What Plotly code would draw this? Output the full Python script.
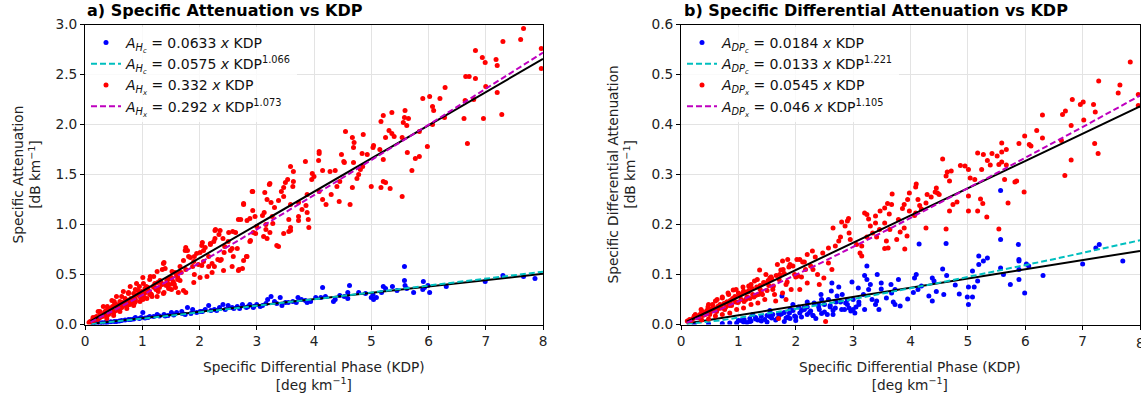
import numpy as np
import plotly.graph_objects as go

W, H = 1141, 398

# ---------------- Panel a: specific attenuation vs KDP ----------------
kdp_a_c = [7.30, 7.66, 7.86, 6.99, 6.31, 5.99, 6.02, 5.91, 5.93, 5.90, 5.74, 5.59, 5.58, 5.58, 5.62,
           5.37, 5.21, 5.25, 5.18, 5.03, 5.00, 5.04, 5.09, 4.78, 4.59, 4.62, 4.53, 4.59, 4.37, 4.34,
           4.15, 4.20, 4.12, 4.03, 3.94, 3.88, 3.78, 3.72, 3.69, 3.63, 3.50, 3.44, 3.41, 3.31, 3.25,
           3.19, 3.16, 3.06, 3.00, 2.94, 2.88, 2.82, 2.75, 2.66, 2.57, 2.50, 2.41, 2.35, 2.26, 2.16,
           2.10, 2.01, 1.88, 1.79, 1.69, 1.60, 1.51, 1.38, 1.26, 1.13, 1.01, 0.98, 0.88, 0.76, 0.64,
           0.51, 0.39, 0.26, 0.14, 3.35, 3.10, 2.95, 2.70, 2.45, 2.20, 1.95, 1.70, 1.45, 1.20, 0.95,
           0.70, 0.45, 0.30, 0.20, 1.85, 1.55, 1.30, 1.05, 0.80, 0.60, 2.30, 2.05, 1.75, 1.40, 1.10,
           0.85, 0.55, 0.35, 2.60, 2.85, 3.55, 3.85, 4.45, 4.90, 5.45]
att_a_c = [0.49, 0.48, 0.46, 0.43, 0.38, 0.39, 0.32, 0.43, 0.37, 0.35, 0.32, 0.39, 0.58, 0.44, 0.36,
           0.38, 0.38, 0.36, 0.32, 0.30, 0.27, 0.25, 0.27, 0.32, 0.32, 0.39, 0.28, 0.26, 0.25, 0.23,
           0.37, 0.28, 0.27, 0.27, 0.23, 0.22, 0.25, 0.27, 0.22, 0.23, 0.22, 0.19, 0.27, 0.23, 0.28,
           0.25, 0.21, 0.18, 0.20, 0.17, 0.20, 0.17, 0.20, 0.18, 0.17, 0.19, 0.20, 0.17, 0.15, 0.19,
           0.15, 0.13, 0.15, 0.17, 0.13, 0.12, 0.12, 0.10, 0.10, 0.08, 0.12, 0.07, 0.07, 0.05, 0.04,
           0.03, 0.02, 0.015, 0.008, 0.21, 0.19, 0.18, 0.16, 0.15, 0.14, 0.12, 0.11, 0.09, 0.08, 0.06,
           0.045, 0.028, 0.018, 0.011, 0.11, 0.095, 0.085, 0.065, 0.05, 0.035, 0.14, 0.13, 0.10, 0.085,
           0.07, 0.055, 0.03, 0.02, 0.16, 0.18, 0.22, 0.24, 0.29, 0.31, 0.34]

kdp_a_x = [7.66, 7.61, 7.30, 7.97, 7.97, 6.82, 6.94, 6.99, 7.18, 7.20, 6.65, 6.71, 6.82, 7.00, 7.20,
           6.64, 6.79, 7.28, 6.96, 6.62, 6.68, 6.29, 6.20, 6.02, 5.90, 6.07, 6.09, 6.28, 6.07, 5.98,
           5.84, 5.84, 5.77, 5.71, 5.59, 5.58, 5.65, 5.56, 5.62, 5.36, 5.21, 5.17, 5.31, 5.36, 5.40,
           5.25, 5.54, 5.63, 5.15, 5.04, 5.03, 5.21, 5.00, 5.17, 5.21, 5.25, 5.33, 5.54, 4.86, 4.55,
           4.67, 4.70, 4.69, 4.48, 4.53, 4.52, 4.69, 4.84, 4.93, 4.85, 4.81, 4.78, 4.75, 4.67, 4.63,
           4.44, 4.21, 4.09, 4.09, 3.85, 4.08, 4.15, 4.28, 4.37, 4.00, 3.97, 3.96, 4.45, 4.40, 4.30,
           4.09, 4.15, 3.88, 3.86, 3.79, 3.88, 3.90, 3.91, 3.73, 3.63, 3.59, 3.64, 3.64, 3.54, 3.50,
           3.47, 3.43, 3.38, 3.47, 3.59, 3.73, 3.56, 3.59, 3.56, 3.38, 3.23, 3.14, 3.18, 3.25, 3.31,
           3.27, 3.13, 3.10, 3.16, 3.28, 3.23, 3.18, 3.16, 2.93, 2.77, 2.93, 2.97, 2.88, 2.83, 3.00,
           2.94, 2.88, 2.82, 2.72, 2.68, 2.58, 2.63, 2.50, 2.57, 2.44, 2.43, 2.38, 2.57, 2.69, 2.75,
           2.28, 2.34, 2.41, 2.25, 2.19, 2.05, 2.10, 2.01, 1.91, 1.76, 1.79, 1.84, 1.88, 1.98, 2.07,
           2.16, 2.32, 2.26, 2.22, 2.13, 2.01, 1.91, 1.76, 1.66, 1.57, 1.62, 1.51, 1.45, 1.38, 1.35,
           1.20, 1.26, 1.13, 1.01, 1.07, 0.95, 0.88, 0.76, 0.64, 0.51, 0.39, 0.26, 0.14, 1.76, 1.63,
           1.51, 1.38, 1.26, 1.13, 1.01, 0.88, 0.76, 0.64, 0.51, 0.39, 0.26, 0.07, 2.92, 2.77, 3.22,
           2.27, 2.36, 2.51, 2.27, 2.19, 2.04, 2.07, 1.95, 1.75, 1.72, 1.81, 1.90, 2.04, 2.16, 2.22,
           2.36, 2.42, 2.54, 2.59, 2.68, 2.66, 2.77, 2.83, 2.89, 2.98, 3.12, 3.35, 3.47, 3.59, 3.73,
           1.37, 1.40, 1.52, 1.60, 1.66, 1.55, 1.46, 1.31, 1.22, 1.14, 1.02, 0.93, 0.85, 0.76, 0.70,
           0.61, 0.52, 0.44, 0.35, 0.26, 0.17, 0.09, 1.17, 1.28, 1.37, 1.08, 0.96, 0.85, 0.73, 0.61,
           0.50, 0.38, 0.90, 0.79, 0.67, 0.55, 0.47, 0.32, 0.23, 1.72, 1.10, 0.98, 0.82, 0.58, 0.42,
           1.48, 1.25, 0.70, 0.30, 0.15, 1.90, 1.58, 1.15, 0.87, 0.62, 0.20, 0.28, 0.33, 0.40, 0.46,
           0.53, 0.57, 0.66, 0.72, 0.80, 0.92, 1.00, 1.05, 1.12, 1.19, 1.24, 1.33, 1.42, 1.50, 1.68,
           0.24, 0.36, 0.43, 0.50, 0.60, 0.68, 0.78, 0.88, 0.97, 1.04, 1.16, 1.30, 1.43, 1.54, 1.62,
           0.12, 0.18, 0.22, 0.31, 0.37, 0.41, 0.48, 0.54, 0.59, 0.63, 0.69, 0.74, 0.81, 0.86, 0.94,
           0.99, 1.03, 1.09, 1.14, 1.21, 1.27, 1.35, 1.45, 1.56, 1.65]
att_a_x = [2.96, 2.85, 2.83, 2.76, 2.56, 2.74, 2.67, 2.62, 2.65, 2.59, 2.48, 2.48, 2.46, 2.38, 2.32,
           2.24, 2.25, 2.10, 2.06, 2.06, 1.81, 2.37, 2.26, 2.28, 2.26, 2.18, 2.14, 2.07, 2.00, 1.78,
           1.93, 1.68, 1.66, 1.54, 2.14, 2.07, 2.06, 2.02, 1.99, 2.12, 2.09, 2.03, 1.94, 1.91, 1.88,
           1.87, 1.87, 1.72, 1.75, 1.79, 1.77, 1.65, 1.38, 1.37, 1.43, 1.42, 1.36, 1.28, 1.90, 1.93,
           1.87, 1.82, 1.77, 1.70, 1.62, 1.63, 1.62, 1.71, 1.70, 1.58, 1.55, 1.50, 1.46, 1.37, 1.20,
           1.23, 1.20, 1.73, 1.71, 1.63, 1.64, 1.54, 1.53, 1.54, 1.48, 1.51, 1.45, 1.43, 1.38, 1.30,
           1.33, 1.25, 1.30, 1.19, 1.15, 1.12, 1.05, 0.97, 1.08, 1.38, 1.58, 1.53, 1.43, 1.45, 1.42,
           1.37, 1.33, 1.24, 1.28, 1.20, 1.22, 1.05, 0.97, 0.93, 0.78, 1.41, 1.32, 1.25, 1.22, 1.17,
           1.08, 1.12, 1.09, 1.00, 1.01, 0.92, 0.86, 0.95, 1.33, 1.21, 1.14, 1.08, 1.06, 1.04, 0.98,
           0.92, 0.83, 0.68, 1.05, 1.05, 0.93, 0.92, 0.83, 0.76, 0.78, 0.72, 0.65, 0.58, 0.55, 0.56,
           0.95, 0.90, 0.86, 0.83, 0.80, 0.82, 0.77, 0.72, 0.68, 0.77, 0.74, 0.67, 0.58, 0.60, 0.63,
           0.68, 0.65, 0.58, 0.52, 0.48, 0.47, 0.50, 0.55, 0.58, 0.52, 0.45, 0.47, 0.40, 0.62, 0.55,
           0.48, 0.53, 0.45, 0.47, 0.38, 0.38, 0.35, 0.32, 0.28, 0.23, 0.18, 0.13, 0.07, 0.32, 0.32,
           0.35, 0.32, 0.28, 0.30, 0.25, 0.23, 0.20, 0.17, 0.13, 0.10, 0.07, 0.02, 1.33, 1.20, 1.40,
           0.94, 0.94, 0.92, 0.86, 0.81, 0.79, 0.74, 0.71, 0.74, 0.64, 0.68, 0.63, 0.59, 0.58, 0.61,
           0.64, 0.54, 0.74, 0.68, 0.54, 0.76, 0.64, 0.68, 0.84, 0.91, 0.88, 0.79, 0.91, 0.94, 1.04,
           0.61, 0.56, 0.53, 0.49, 0.44, 0.41, 0.36, 0.44, 0.41, 0.48, 0.41, 0.34, 0.31, 0.31, 0.26,
           0.23, 0.21, 0.16, 0.13, 0.09, 0.06, 0.03, 0.28, 0.33, 0.31, 0.26, 0.23, 0.19, 0.16, 0.13,
           0.09, 0.06, 0.41, 0.38, 0.33, 0.28, 0.24, 0.18, 0.13, 0.34, 0.37, 0.29, 0.25, 0.15, 0.11,
           0.40, 0.36, 0.20, 0.08, 0.04, 0.42, 0.37, 0.30, 0.22, 0.19, 0.08, 0.11, 0.10, 0.14, 0.15,
           0.19, 0.17, 0.22, 0.21, 0.26, 0.30, 0.29, 0.36, 0.33, 0.38, 0.35, 0.42, 0.39, 0.46, 0.52,
           0.06, 0.09, 0.12, 0.12, 0.16, 0.19, 0.20, 0.25, 0.27, 0.31, 0.30, 0.37, 0.44, 0.43, 0.47,
           0.04, 0.07, 0.05, 0.09, 0.14, 0.10, 0.18, 0.14, 0.20, 0.17, 0.21, 0.24, 0.22, 0.27, 0.29,
           0.33, 0.27, 0.34, 0.31, 0.37, 0.42, 0.40, 0.45, 0.40, 0.52]

# ---------------- Panel b: specific differential attenuation vs KDP ----------------
kdp_b_c = [7.70, 7.29, 7.23, 7.00, 6.31, 5.99, 6.02, 6.06, 5.88, 5.89, 5.89, 5.89, 5.89, 5.74, 5.57,
           5.57, 5.57, 5.62, 5.27, 5.19, 5.34, 5.19, 5.08, 5.01, 4.99, 5.08, 5.01, 5.11, 5.17, 4.78,
           4.62, 4.56, 4.63, 4.58, 4.38, 4.41, 4.38, 4.32, 4.15, 4.10, 4.07, 4.19, 4.13, 3.95, 3.79,
           3.82, 3.73, 3.73, 3.67, 3.66, 3.58, 3.49, 3.49, 3.42, 3.41, 3.39, 3.33, 3.27, 3.24, 3.20,
           3.24, 3.30, 3.18, 3.09, 2.98, 3.00, 3.03, 2.93, 2.96, 2.87, 2.81, 2.75, 2.72, 2.69, 2.63,
           2.62, 2.57, 2.50, 2.44, 2.41, 2.32, 2.26, 2.20, 2.14, 2.07, 1.98, 1.89, 1.83, 1.76, 1.71,
           1.58, 1.46, 1.34, 1.22, 1.09, 0.97, 0.85, 0.72, 0.48, 0.23, 2.85, 2.65, 2.45, 2.30, 2.10,
           1.90, 1.65, 1.40, 1.15, 3.05, 2.55, 2.35, 2.00, 1.80, 1.50, 1.30, 1.55, 1.75, 1.95, 2.15,
           2.40, 2.60, 2.78, 2.90, 3.10, 3.45, 3.70, 4.05, 4.45, 4.85, 1.05, 1.20, 1.68, 1.86, 2.24,
           1.00, 1.10, 1.20, 1.30, 1.40, 1.50, 1.60, 1.70, 1.80, 1.90, 2.00, 2.10, 2.20, 2.30, 2.40,
           2.50, 2.60, 2.70, 2.80, 2.90, 3.00, 3.10, 2.45, 2.20, 1.95, 3.20, 2.05, 2.65, 1.55, 1.25]
att_b_c = [0.127, 0.160, 0.153, 0.121, 0.098, 0.063, 0.121, 0.117, 0.160, 0.130, 0.127, 0.090, 0.110,
           0.080, 0.268, 0.170, 0.113, 0.100, 0.127, 0.137, 0.133, 0.120, 0.107, 0.075, 0.055, 0.055,
           0.040, 0.075, 0.087, 0.079, 0.162, 0.111, 0.098, 0.060, 0.093, 0.087, 0.047, 0.057, 0.161,
           0.100, 0.093, 0.077, 0.070, 0.051, 0.090, 0.037, 0.040, 0.070, 0.063, 0.080, 0.053, 0.083,
           0.071, 0.100, 0.047, 0.040, 0.050, 0.070, 0.117, 0.098, 0.090, 0.080, 0.060, 0.073, 0.085,
           0.050, 0.023, 0.033, 0.027, 0.043, 0.060, 0.075, 0.057, 0.033, 0.083, 0.067, 0.050, 0.040,
           0.060, 0.030, 0.043, 0.027, 0.020, 0.033, 0.023, 0.017, 0.023, 0.013, 0.057, 0.018, 0.013,
           0.010, 0.009, 0.007, 0.005, 0.003, 0.003, 0.002, 0.001, 0.0007, 0.030, 0.028, 0.022, 0.018,
           0.015, 0.012, 0.009, 0.007, 0.004, 0.035, 0.020, 0.012, 0.008, 0.006, 0.005, 0.011, 0.016,
           0.021, 0.028, 0.030, 0.035, 0.038, 0.045, 0.040, 0.045, 0.030, 0.045, 0.064, 0.066, 0.061,
           0.008, 0.006, 0.012, 0.015, 0.024, 0.008, 0.010, 0.012, 0.014, 0.016, 0.018, 0.020, 0.022,
           0.024, 0.030, 0.015, 0.028, 0.035, 0.018, 0.040, 0.025, 0.035, 0.045, 0.030, 0.050, 0.030,
           0.040, 0.050, 0.045, 0.040, 0.030, 0.035, 0.020, 0.028, 0.020]

kdp_b_x = [7.83, 7.28, 7.65, 7.62, 7.97, 7.97, 6.82, 6.96, 7.01, 7.19, 7.02, 7.22, 6.70, 6.65, 6.80,
           6.63, 6.30, 6.30, 6.20, 6.07, 6.10, 5.99, 5.89, 7.21, 7.27, 6.80, 6.69, 5.98, 5.59, 5.59,
           5.67, 5.51, 5.42, 5.59, 5.54, 5.39, 5.34, 5.27, 5.17, 5.24, 5.67, 5.64, 5.82, 5.85, 5.70,
           5.54, 5.01, 4.95, 4.87, 4.71, 4.64, 4.56, 4.62, 4.68, 5.04, 5.12, 5.01, 5.22, 5.26, 5.01,
           5.17, 5.33, 4.81, 4.74, 4.68, 4.62, 4.45, 4.47, 4.50, 4.43, 4.36, 4.29, 4.27, 4.19, 4.27,
           4.10, 4.09, 3.98, 4.13, 4.16, 4.09, 4.07, 3.95, 3.89, 3.86, 3.98, 3.79, 3.89, 3.94, 3.90,
           3.82, 3.76, 3.68, 3.67, 3.60, 3.55, 3.63, 3.55, 3.64, 3.58, 3.55, 3.61, 3.47, 3.39, 3.39,
           3.46, 3.41, 3.27, 3.24, 3.20, 3.30, 3.34, 3.24, 3.15, 3.12, 3.15, 2.92, 2.90, 2.80, 2.93,
           2.86, 2.65, 2.78, 2.75, 2.69, 2.95, 3.06, 2.57, 2.47, 2.57, 2.63, 2.49, 2.41, 2.38, 2.29,
           2.20, 2.07, 2.26, 2.17, 2.04, 1.95, 1.86, 1.77, 1.74, 1.71, 1.83, 1.92, 1.77, 1.61, 1.55,
           1.46, 1.37, 1.28, 1.18, 1.09, 1.00, 0.91, 0.82, 0.72, 0.60, 0.48, 0.36, 0.23, 0.11, 1.46,
           1.34, 1.22, 1.09, 0.97, 0.85, 0.72, 0.60, 0.48, 0.36, 1.65, 1.83, 2.07, 2.20, 1.25, 1.05,
           0.88, 0.66, 0.42, 0.30, 1.40, 1.15, 0.95, 0.78, 0.55, 0.18, 2.00, 1.60, 1.30, 0.15, 0.26,
           0.33, 0.40, 0.45, 0.52, 0.56, 0.64, 0.68, 0.75, 0.80, 0.86, 0.90, 0.94, 1.02, 1.07, 1.12,
           1.18, 1.24, 1.32, 1.38, 1.44, 1.52, 1.58, 1.66, 1.80, 1.88, 2.12, 2.34, 2.52, 0.21, 0.38,
           0.50, 0.62, 0.70, 0.84, 0.99, 1.10, 1.20, 1.35, 1.50, 1.70, 0.25, 0.30, 0.35, 0.42, 0.47,
           0.50, 0.55, 0.60, 0.63, 0.67, 0.72, 0.76, 0.80, 0.83, 0.88, 0.92, 0.96, 1.00, 1.03, 1.08,
           1.13, 1.17, 1.22, 1.27, 1.33, 1.38, 1.42, 1.48, 1.53, 1.57, 1.63, 1.68, 1.72, 1.78, 1.85,
           1.90, 1.98, 2.02, 2.10, 2.15, 2.30, 2.45]
att_b_x = [0.525, 0.487, 0.479, 0.463, 0.460, 0.438, 0.450, 0.440, 0.445, 0.440, 0.409, 0.425, 0.427,
           0.420, 0.398, 0.368, 0.419, 0.373, 0.388, 0.360, 0.357, 0.377, 0.362, 0.362, 0.342, 0.329,
           0.298, 0.265, 0.363, 0.345, 0.350, 0.337, 0.342, 0.325, 0.320, 0.319, 0.328, 0.340, 0.343,
           0.310, 0.319, 0.290, 0.285, 0.287, 0.243, 0.191, 0.310, 0.317, 0.318, 0.307, 0.305, 0.331,
           0.297, 0.287, 0.293, 0.290, 0.257, 0.251, 0.242, 0.227, 0.227, 0.215, 0.245, 0.240, 0.227,
           0.191, 0.273, 0.263, 0.260, 0.265, 0.255, 0.260, 0.243, 0.231, 0.193, 0.281, 0.275, 0.263,
           0.250, 0.238, 0.223, 0.218, 0.250, 0.240, 0.232, 0.227, 0.210, 0.193, 0.177, 0.151, 0.185,
           0.170, 0.261, 0.240, 0.242, 0.233, 0.221, 0.203, 0.190, 0.167, 0.152, 0.153, 0.227, 0.217,
           0.203, 0.190, 0.175, 0.211, 0.220, 0.223, 0.197, 0.183, 0.175, 0.157, 0.143, 0.137, 0.212,
           0.207, 0.205, 0.183, 0.197, 0.193, 0.175, 0.167, 0.157, 0.170, 0.160, 0.153, 0.143, 0.123,
           0.110, 0.093, 0.080, 0.100, 0.147, 0.140, 0.130, 0.117, 0.110, 0.097, 0.117, 0.130, 0.127,
           0.109, 0.090, 0.080, 0.070, 0.063, 0.077, 0.093, 0.083, 0.109, 0.087, 0.077, 0.067, 0.063,
           0.069, 0.063, 0.053, 0.047, 0.040, 0.027, 0.017, 0.007, 0.050, 0.043, 0.040, 0.033, 0.030,
           0.023, 0.020, 0.017, 0.011, 0.009, 0.047, 0.050, 0.070, 0.083, 0.060, 0.050, 0.040, 0.032,
           0.020, 0.014, 0.065, 0.055, 0.045, 0.035, 0.028, 0.008, 0.095, 0.070, 0.058, 0.010, 0.016,
           0.020, 0.024, 0.028, 0.030, 0.034, 0.036, 0.040, 0.042, 0.045, 0.048, 0.052, 0.056, 0.058,
           0.062, 0.064, 0.068, 0.072, 0.075, 0.078, 0.084, 0.088, 0.092, 0.098, 0.102, 0.115, 0.125,
           0.135, 0.006, 0.012, 0.018, 0.022, 0.026, 0.033, 0.038, 0.044, 0.046, 0.052, 0.060, 0.068,
           0.012, 0.020, 0.015, 0.030, 0.022, 0.035, 0.020, 0.040, 0.027, 0.050, 0.035, 0.055, 0.030,
           0.045, 0.060, 0.038, 0.050, 0.070, 0.045, 0.058, 0.075, 0.050, 0.065, 0.080, 0.055, 0.090,
           0.070, 0.060, 0.100, 0.078, 0.095, 0.060, 0.120, 0.100, 0.110, 0.085, 0.120, 0.100, 0.130,
           0.095, 0.125, 0.110]

# Fit coefficients shown in the legends (linear a*KDP, power b*KDP^p)
lin_a = {"c": 0.0633, "x": 0.332}
pow_a = {"c": (0.0575, 1.066), "x": (0.292, 1.073)}
lin_b = {"c": 0.0184, "x": 0.0545}
pow_b = {"c": (0.0133, 1.221), "x": (0.046, 1.105)}
fit_kdp = np.linspace(0.1, 8.0, 120)
x_ticks = [0, 1, 2, 3, 4, 5, 6, 7, 8]

names_a = {
    "c_pts": "<i>A</i><sub><i>H</i><sub><i>c</i></sub></sub> = 0.0633 <i>x</i> KDP",
    "c_pow": "<i>A</i><sub><i>H</i><sub><i>c</i></sub></sub> = 0.0575 <i>x</i> KDP<sup>1.066</sup>",
    "x_pts": "<i>A</i><sub><i>H</i><sub><i>x</i></sub></sub> = 0.332 <i>x</i> KDP",
    "x_pow": "<i>A</i><sub><i>H</i><sub><i>x</i></sub></sub> = 0.292 <i>x</i> KDP<sup>1.073</sup>",
}
names_b = {
    "c_pts": "<i>A</i><sub><i>DP</i><sub><i>c</i></sub></sub> = 0.0184 <i>x</i> KDP",
    "c_pow": "<i>A</i><sub><i>DP</i><sub><i>c</i></sub></sub> = 0.0133 <i>x</i> KDP<sup>1.221</sup>",
    "x_pts": "<i>A</i><sub><i>DP</i><sub><i>x</i></sub></sub> = 0.0545 <i>x</i> KDP",
    "x_pow": "<i>A</i><sub><i>DP</i><sub><i>x</i></sub></sub> = 0.046 <i>x</i> KDP<sup>1.105</sup>",
}

FONT = "DejaVu Sans"
BLUE, RED, CYAN, MAG = "#0000ff", "#ff0000", "#00bfbf", "#bf00bf"
FS = 13.7

fig = go.Figure()


def add_panel(xa, ya, legend, kc, ac, kx, ax_, lin, pw, names):
    common = dict(xaxis=xa, yaxis=ya, legend=legend)
    fig.add_trace(go.Scatter(x=kc, y=ac, mode="markers", name=names["c_pts"],
                             marker=dict(color=BLUE, size=5), **common))
    fig.add_trace(go.Scatter(x=fit_kdp, y=lin["c"] * fit_kdp, mode="lines", showlegend=False,
                             line=dict(color="black", width=2), hoverinfo="skip", **common))
    fig.add_trace(go.Scatter(x=fit_kdp, y=pw["c"][0] * fit_kdp ** pw["c"][1], mode="lines",
                             name=names["c_pow"], line=dict(color=CYAN, width=2, dash="6px,3px"),
                             **common))
    fig.add_trace(go.Scatter(x=kx, y=ax_, mode="markers", name=names["x_pts"],
                             marker=dict(color=RED, size=5), **common))
    fig.add_trace(go.Scatter(x=fit_kdp, y=lin["x"] * fit_kdp, mode="lines", showlegend=False,
                             line=dict(color="black", width=2), hoverinfo="skip", **common))
    fig.add_trace(go.Scatter(x=fit_kdp, y=pw["x"][0] * fit_kdp ** pw["x"][1], mode="lines",
                             name=names["x_pow"], line=dict(color=MAG, width=2, dash="6px,3px"),
                             **common))


add_panel("x", "y", "legend", kdp_a_c, att_a_c, kdp_a_x, att_a_x, lin_a, pow_a, names_a)
add_panel("x2", "y2", "legend2", kdp_b_c, att_b_c, kdp_b_x, att_b_x, lin_b, pow_b, names_b)


def px(x):
    return x / W


def py(y):
    return 1 - y / H


axis_common = dict(showline=True, linecolor="black", linewidth=1, mirror=True, ticks="outside",
                   ticklen=4, tickcolor="black", showgrid=True, gridcolor="#e3e3e3", gridwidth=1,
                   zeroline=False, automargin=False,
                   tickfont=dict(family=FONT, size=FS, color="#222"))

ytop, ybot = 24.5, 324.5
leg_common = dict(xanchor="left", yanchor="top", bgcolor="rgba(255,255,255,0.8)", borderwidth=0,
                  tracegroupgap=0, font=dict(family=FONT, size=14, color="#111"))
fig.update_layout(
    width=W, height=H, margin=dict(l=0, r=0, t=0, b=0, autoexpand=False), autosize=False,
    paper_bgcolor="white", plot_bgcolor="white", showlegend=True,
    font=dict(family=FONT, size=FS, color="#222"),
    xaxis=dict(domain=[px(85), px(543)], range=[0, 8], tickvals=x_ticks, anchor="y", **axis_common),
    yaxis=dict(domain=[py(ybot), py(ytop)], range=[0, 3.0], dtick=0.5, tickformat=".1f",
               anchor="x", **axis_common),
    xaxis2=dict(domain=[px(681), px(1140)], range=[0, 8], tickvals=x_ticks, anchor="y2",
                **axis_common),
    yaxis2=dict(domain=[py(ybot), py(ytop)], range=[0, 0.6], dtick=0.1, tickformat=".1f",
                anchor="x2", **axis_common),
    legend=dict(x=px(86), y=py(27), **leg_common),
    legend2=dict(x=px(682), y=py(27), **leg_common),
)

annotations = [
    dict(text="<b>a) Specific Attenuation vs KDP</b>", x=px(85), y=py(11), xanchor="left",
         yanchor="middle", font=dict(family=FONT, size=16, color="black")),
    dict(text="<b>b) Specific Differential Attenuation vs KDP</b>", x=px(682), y=py(11),
         xanchor="left", yanchor="middle", font=dict(family=FONT, size=16, color="black")),
    dict(text="Specific Differential Phase (KDP)<br>[deg km<sup>−1</sup>]", x=px(314), y=py(376),
         xanchor="center", yanchor="middle", font=dict(family=FONT, size=FS, color="#222")),
    dict(text="Specific Differential Phase (KDP)<br>[deg km<sup>−1</sup>]", x=px(910), y=py(376),
         xanchor="center", yanchor="middle", font=dict(family=FONT, size=FS, color="#222")),
    dict(text="Specific Attenuation<br>[dB km<sup>−1</sup>]", x=px(26), y=py(174.5),
         textangle=-90, xanchor="center", yanchor="middle",
         font=dict(family=FONT, size=FS, color="#222")),
    dict(text="Specific Differential Attenuation<br>[dB km<sup>−1</sup>]", x=px(621), y=py(174.5),
         textangle=-90, xanchor="center", yanchor="middle",
         font=dict(family=FONT, size=FS, color="#222")),
    # last x tick label of panel b sits on the page edge (partly cut, as in the reference)
    dict(text=str(x_ticks[-1]), x=px(1140), y=py(343), xanchor="center", yanchor="middle",
         font=dict(family=FONT, size=FS, color="#222")),
]
for a in annotations:
    a.update(xref="paper", yref="paper", showarrow=False)
fig.update_layout(annotations=annotations)

fig.write_html("out.html", config={"displayModeBar": False},
               post_script="document.body.style.margin='0';document.body.style.overflow='hidden';")
